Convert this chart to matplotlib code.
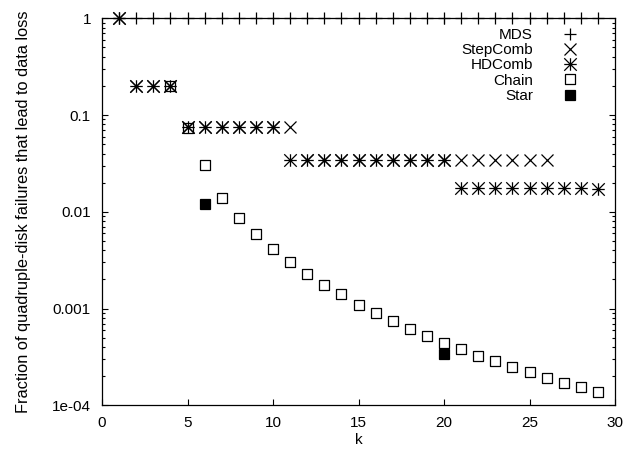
import numpy as np
import matplotlib
matplotlib.use("Agg")
import matplotlib.pyplot as plt
from matplotlib.path import Path
from matplotlib.ticker import FixedLocator, FixedFormatter, LogLocator, NullFormatter

plt.rcParams['font.family'] = ['Liberation Sans', 'DejaVu Sans']

# data
mds_k = list(range(1, 30))
mds_y = [1.0] * len(mds_k)

step_k = [1, 2, 3, 4, 5, 6, 7, 8, 9, 10, 11,
          12, 13, 14, 15, 16, 17, 18, 19, 20, 21, 22, 23, 24, 25, 26]
step_y = [1.0, 0.2, 0.2, 0.2, 0.075, 0.075, 0.075, 0.075, 0.075, 0.075, 0.075,
          0.034, 0.034, 0.034, 0.034, 0.034, 0.034, 0.034, 0.034, 0.034,
          0.034, 0.034, 0.034, 0.034, 0.034, 0.034]

hd_k = list(range(1, 30))
hd_y = [1.0, 0.2, 0.2, 0.2, 0.075, 0.075, 0.075, 0.075, 0.075, 0.075,
        0.034, 0.034, 0.034, 0.034, 0.034, 0.034, 0.034, 0.034, 0.034, 0.034,
        0.0175, 0.0175, 0.0175, 0.0175, 0.0175, 0.0175, 0.0175, 0.0175, 0.0172]

chain_k = list(range(4, 30))
chain_y = [0.2, 0.074, 0.0305, 0.014, 0.0087, 0.0059, 0.0041, 0.0030, 0.00228,
           0.00177, 0.00142, 0.0011, 0.000895, 0.000735, 0.000617, 0.000518,
           0.000443, 0.000378, 0.000325, 0.000284, 0.000248, 0.000219,
           0.000193, 0.000171, 0.000153, 0.000137]

star_k = [6, 20]
star_y = [0.0121, 0.000336]

ytick_vals = [1e-4, 1e-3, 1e-2, 1e-1, 1]
ytick_labels = ['1e-04', '0.001', '0.01', '0.1', '1']

# gnuplot-like markers
asterisk = Path([(-1, 0), (1, 0), (0, -1), (0, 1), (-1, -1), (1, 1), (-1, 1), (1, -1)],
                [Path.MOVETO, Path.LINETO] * 4)
d = 0.06
dotted_box = Path([(-1, -1), (1, -1), (1, 1), (-1, 1), (-1, -1),
                   (-d, -d), (d, -d), (d, d), (-d, d), (-d, -d)],
                  [Path.MOVETO, Path.LINETO, Path.LINETO, Path.LINETO, Path.CLOSEPOLY] * 2)

fig = plt.figure(figsize=(6.26, 4.54), dpi=100)
ax = fig.add_axes([0.163, 0.1073, 0.8195, 0.8524])

kw = dict(linestyle='none', color='black', clip_on=False)
ax.plot(mds_k, mds_y, marker='+', markersize=9, markeredgewidth=0.9, label='MDS', **kw)
ax.plot(step_k, step_y, marker='x', markersize=8, markeredgewidth=0.9, label='StepComb', **kw)
ax.plot(hd_k, hd_y, marker=asterisk, markersize=9, markeredgewidth=0.9, label='HDComb', **kw)
ax.plot(chain_k, chain_y, marker=dotted_box, markersize=7.5, markeredgewidth=0.9,
        markerfacecolor='none', label='Chain', **kw)
ax.plot(star_k, star_y, marker='s', markersize=7.5, markeredgewidth=0.9,
        markerfacecolor='black', label='Star', **kw)

ax.set_yscale('log')
ax.set_xlim(0, 30)
ax.set_ylim(1e-4, 1)
ax.set_xticks(range(0, 31, 5))
ax.yaxis.set_major_locator(FixedLocator(ytick_vals))
ax.yaxis.set_major_formatter(FixedFormatter(ytick_labels))
ax.yaxis.set_minor_locator(LogLocator(base=10, subs=np.arange(2, 10)))
ax.yaxis.set_minor_formatter(NullFormatter())

ax.tick_params(which='both', direction='in', top=True, right=True, labelsize=11, width=0.8)
ax.tick_params(which='major', length=4)
ax.tick_params(axis='y', which='major', pad=8)
ax.tick_params(axis='x', which='major', pad=8)
ax.tick_params(which='minor', length=2.2)
for s in ax.spines.values():
    s.set_linewidth(0.9)

ax.set_xlabel('k', fontsize=11, labelpad=2)
ax.set_ylabel('Fraction of quadruple-disk failures that lead to data loss', fontsize=11.8, labelpad=15)

leg = ax.legend(loc='upper right', bbox_to_anchor=(0.9347, 0.975), markerfirst=False,
                frameon=False, fontsize=11, labelspacing=0.08, handlelength=1.5,
                handletextpad=1.67, borderaxespad=0, borderpad=0)

fig.savefig('out.png', dpi=100)
